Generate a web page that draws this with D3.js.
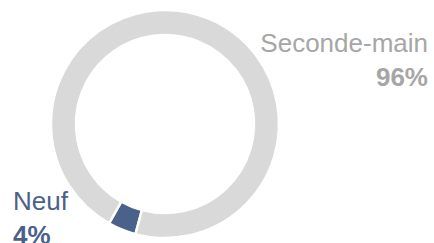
<!DOCTYPE html>
<html>
<head>
<meta charset="utf-8">
<script src="https://cdn.jsdelivr.net/npm/d3@7"></script>
<style>
  body { margin: 0; background: #fff; }
  text { font-family: "Liberation Sans", Arial, sans-serif; }
</style>
</head>
<body>
<svg id="chart" width="434" height="243"></svg>
<script>
const categories = ["Neuf", "Seconde-main"];
const values = [4, 96];
const labels = ["4%", "96%"];
const colors = ["#4a6189", "#d9d9d9"];
const textColors = ["#4a6189", "#a6a6a6"];

const svg = d3.select("#chart");
const cx = 165, cy = 124;
const outer = 114, inner = 89;

const pie = d3.pie()
  .sort(null)
  .startAngle(195 * Math.PI / 180)
  .endAngle(555 * Math.PI / 180);

const arc = d3.arc().innerRadius(inner).outerRadius(outer);

const g = svg.append("g").attr("transform", `translate(${cx},${cy})`);

g.selectAll("path")
  .data(pie(values))
  .join("path")
  .attr("d", arc)
  .attr("fill", (d, i) => colors[i])
  .attr("stroke", "#fff")
  .attr("stroke-width", 2.5);

// labels
const labelPos = [
  { x: 13, y: 210, anchor: "start" },
  { x: 428, y: 52, anchor: "end" }
];

categories.forEach((c, i) => {
  const p = labelPos[i];
  svg.append("text")
    .attr("x", p.x).attr("y", p.y)
    .attr("text-anchor", p.anchor)
    .attr("font-size", 26)
    .attr("fill", textColors[i])
    .text(c);
  svg.append("text")
    .attr("x", p.x).attr("y", p.y + 34)
    .attr("text-anchor", p.anchor)
    .attr("font-size", 26)
    .attr("font-weight", "bold")
    .attr("fill", textColors[i])
    .text(labels[i]);
});
</script>
</body>
</html>
